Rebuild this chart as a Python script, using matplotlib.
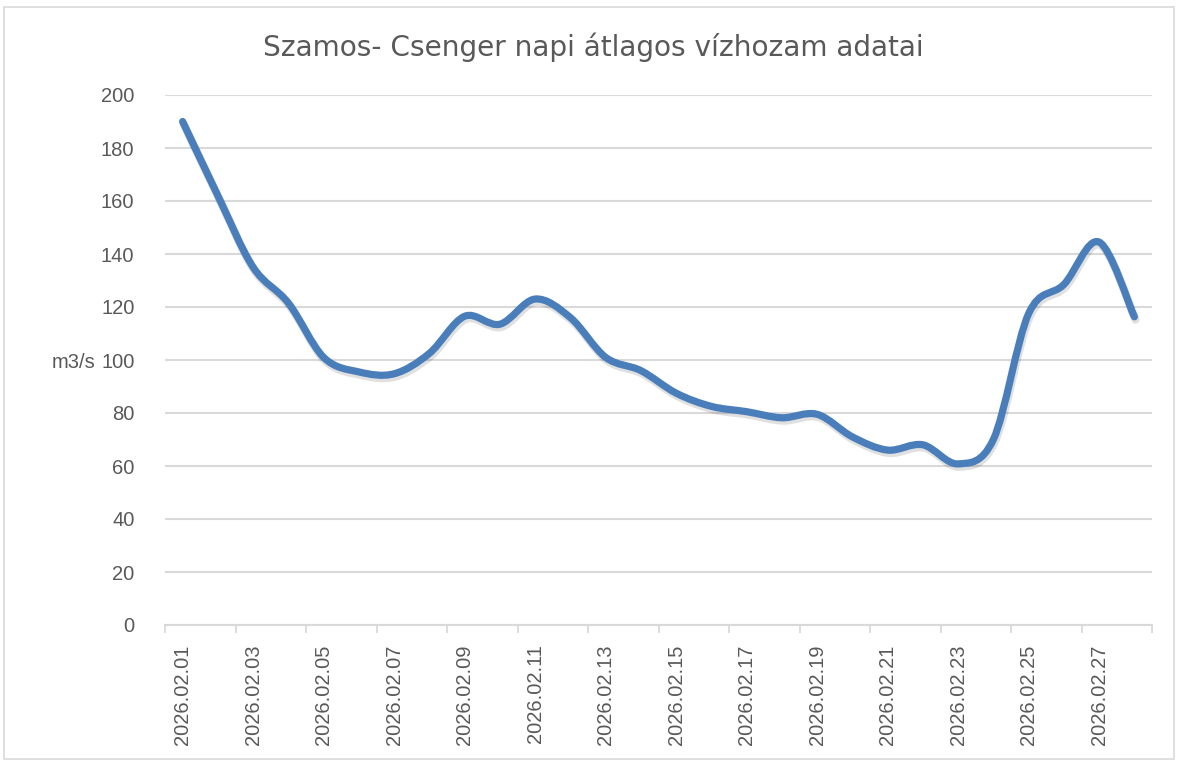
import numpy as np
import matplotlib
matplotlib.use("Agg")
import matplotlib.pyplot as plt
from matplotlib.path import Path
from matplotlib.patches import PathPatch, Rectangle
import matplotlib.patheffects as pe

# Daily mean discharge, Szamos at Csenger, February 2026
dates = [f"2026.02.{d:02d}" for d in range(1, 29)]
discharge = [190, 162, 135, 121.5, 101, 95.5, 94.8, 102.5, 116.5, 113.5,
             123, 116, 101, 96, 87.5, 82.5, 80.5, 78.2, 79.5, 71,
             66, 68, 60.8, 70, 117.5, 128.5, 144.5, 116.3]
yticks = [0, 20, 40, 60, 80, 100, 120, 140, 160, 180, 200]
title = "Szamos- Csenger napi átlagos vízhozam adatai"
ylabel = "m3/s"

TEXT = "#595959"
GRID = "#d9d9d9"
LINE = "#4a7ebb"
FONT = "Liberation Sans"


def smooth_path(x, y, k=1/6):
    """Cubic Bezier path through the points (Catmull-Rom style smoothing)."""
    x = np.asarray(x, float)
    y = np.asarray(y, float)
    px = np.concatenate([[x[0]], x, [x[-1]]])
    py = np.concatenate([[y[0]], y, [y[-1]]])
    verts = [(x[0], y[0])]
    codes = [Path.MOVETO]
    for i in range(len(x) - 1):
        c1 = (x[i] + k * (px[i + 2] - px[i]), y[i] + k * (py[i + 2] - py[i]))
        c2 = (x[i + 1] - k * (px[i + 3] - px[i + 1]),
              y[i + 1] - k * (py[i + 3] - py[i + 1]))
        verts += [c1, c2, (x[i + 1], y[i + 1])]
        codes += [Path.CURVE4] * 3
    return Path(verts, codes)


fig = plt.figure(figsize=(11.8, 7.63), dpi=100)
fig.patch.set_facecolor("white")
fig.add_artist(Rectangle((0.003, 0.005), 0.992, 0.986, transform=fig.transFigure,
                         fill=False, edgecolor="#d9d9d9", linewidth=1.2))

ax = fig.add_axes([165 / 1180, 1 - 625 / 763, (1152 - 165) / 1180, (625 - 95) / 763])
n = len(dates)
xs = np.arange(n)
ax.set_xlim(-0.5, n - 0.5)
ax.set_ylim(0, 200)

# gridlines
ax.set_yticks(yticks)
ax.yaxis.grid(True, color=GRID, linewidth=1.5)
ax.set_axisbelow(True)
ax.tick_params(axis="y", length=0, pad=22, labelsize=14.5, labelcolor=TEXT)
for lab in ax.get_yticklabels():
    lab.set_fontfamily(FONT)

# category axis: tick marks on boundaries, labels on every second day
ax.set_xticks(np.arange(-0.5, n, 2))
ax.set_xticklabels([])
ax.tick_params(axis="x", which="major", length=6, width=1.3, color=GRID)
ax.set_xticks(xs[::2], minor=True)
ax.set_xticklabels(dates[::2], minor=True, rotation=90, fontsize=14.5,
                   color=TEXT, fontfamily=FONT)
ax.tick_params(axis="x", which="minor", length=0, pad=14)

for s in ["top", "right", "left"]:
    ax.spines[s].set_visible(False)
ax.spines["bottom"].set_color(GRID)
ax.spines["bottom"].set_linewidth(1.5)

patch = PathPatch(smooth_path(xs, discharge), facecolor="none", edgecolor=LINE,
                  linewidth=5.2, capstyle="round", joinstyle="round", zorder=3)
patch.set_path_effects([pe.SimpleLineShadow(offset=(0.8, -2.0), shadow_color="#000000",
                                            alpha=0.12, linewidth=6),
                        pe.Normal()])
ax.add_patch(patch)

fig.text(0.503, 1 - 47 / 763, title, ha="center", va="center", fontsize=20.2,
         color=TEXT, fontfamily="DejaVu Sans")
fig.text(95 / 1180, 1 - 362 / 763, ylabel, ha="right", va="center", fontsize=14.5,
         color=TEXT, fontfamily=FONT)

fig.savefig("out.png", dpi=100, facecolor="white")
